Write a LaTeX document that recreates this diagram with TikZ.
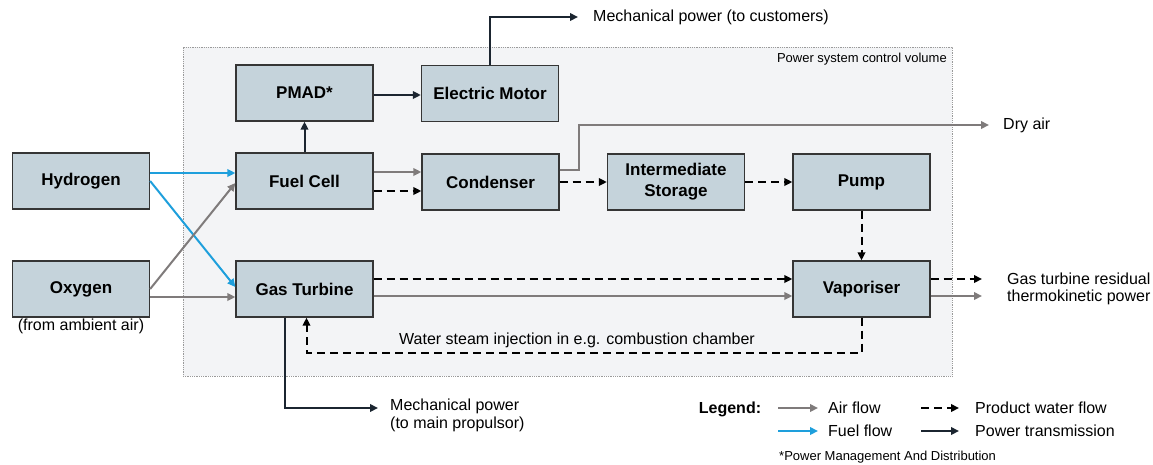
\documentclass[tikz,border=0pt]{standalone}
\usepackage{fontspec}
\setmainfont{Liberation Sans}
\usepackage{xcolor}
\usetikzlibrary{positioning,arrows.meta}

\definecolor{boxfill}{HTML}{C5D3DB}
\definecolor{boxline}{HTML}{353535}
\definecolor{airgray}{HTML}{7F7B7B}
\definecolor{fuelblue}{HTML}{1E9FDC}
\definecolor{powerdark}{HTML}{1B2530}
\definecolor{cvfill}{HTML}{F3F4F6}
\definecolor{cvline}{HTML}{9A9A9A}

\begin{document}
\begin{tikzpicture}[x=1pt,y=-1pt,
	box/.style={draw=boxline, line width=1.3pt, fill=boxfill,
		minimum width=137pt, minimum height=56pt, align=center,
		font=\fontsize{17}{21}\selectfont\bfseries},
	txt/.style={inner sep=0pt, align=left, font=\fontsize{16}{17.5}\selectfont},
	smalltxt/.style={inner sep=0pt, font=\fontsize{13}{15}\selectfont},
	tip/.style={-{Triangle[length=8pt,width=7.5pt]}},
	air/.style={tip, draw=airgray, line width=2pt},
	fuel/.style={tip, draw=fuelblue, line width=2pt},
	water/.style={tip, draw=black, line width=2pt, dash pattern=on 8pt off 5pt},
	power/.style={tip, draw=powerdark, line width=2pt}
	]
	
	\useasboundingbox (0,0) rectangle (1153,464);
	
	% control volume
	\node[
	draw=cvline,
	densely dotted,
	line width=0.8pt,
	fill=cvfill,
	minimum width=769pt,
	minimum height=329pt
	]
	(cv)
	at (567.5,211.5)
	{};
	
	\node[smalltxt, anchor=east] (cvtxt) at (947,59) {Power system control volume};
	
	% components
	\node[box] (hyd) at (81,181) {Hydrogen};
	\node[box] (oxy) at (81,289) {Oxygen};
	\node[txt] (oxynote) at (81,326) {(from ambient air)};
	
	\node[box] (pmad) at (304.5,93) {PMAD*};
	\node[box] (mot) at (490,93.5) {Electric Motor};
	\node[box] (fc) at (304.5,181) {Fuel Cell};
	\node[box] (cond) at (490.5,182) {Condenser};
	\node[box] (store) at (676,182) {Intermediate\\Storage};
	\node[box] (pump) at (861.5,182) {Pump};
	\node[box] (gt) at (304.5,289) {Gas Turbine};
	\node[box] (vap) at (861.5,289) {Vaporiser};
	
	% outputs
	\node[txt, anchor=west] (cust) at (593,17) {Mechanical power (to customers)};
	\node[txt, anchor=west] (dry) at (1003,125) {Dry air};
	\node[txt, anchor=west] (res) at (1007,289) {Gas turbine residual\\thermokinetic power};
	\node[txt, anchor=west] (prop) at (390,415.5) {Mechanical power\\(to main propulsor)};
	\node[txt] (steam) at (577,340) {Water steam injection in e.g. combustion chamber};
	
	% fuel and air in
	\draw[fuel] ([yshift=8pt]hyd.east) -- ([yshift=8pt]hyd.east -| fc.west);
	\draw[fuel] (hyd.east) -- ([yshift=2pt]gt.west);
	\draw[air] (oxy.east) -- ([yshift=-2pt]fc.west);
	\draw[air] ([yshift=-8pt]oxy.east) -- ([yshift=-8pt]oxy.east -| gt.west);
	
	% fuel cell branch
	\draw[power] (fc.north) -- (pmad.south);
	\draw[power] ([yshift=-2pt]pmad.east) -- ([yshift=-2pt]pmad.east -| mot.west);
	\draw[power] (mot.north) |- ([xshift=-15pt]cust.west);
	\draw[air] ([yshift=9pt]fc.east) -- ([yshift=9pt]fc.east -| cond.west);
	\draw[water] ([yshift=-10pt]fc.east) -- ([yshift=-10pt]fc.east -| cond.west);
	\draw[air] ([yshift=12pt]cond.east) -- ++(19pt,0pt) |- ([xshift=-14pt]dry.west);
	\draw[water] (cond.east) -- (store.west);
	\draw[water] (store.east) -- (pump.west);
	\draw[water] (pump.south) -- (vap.north);
	
	% gas turbine branch
	\draw[water] ([yshift=10pt]gt.east) -- ([yshift=10pt]gt.east -| vap.west);
	\draw[air] ([yshift=-7pt]gt.east) -- ([yshift=-7pt]gt.east -| vap.west);
	\draw[water] ([yshift=10pt]vap.east) -- ([xshift=-25pt,yshift=10pt]res.west);
	\draw[air] ([yshift=-7pt]vap.east) -- ([xshift=-25pt,yshift=-7pt]res.west);
	\draw[water] (vap.south) -- ++(0pt,-35pt) -| ([xshift=2pt]gt.south);
	\draw[power] ([xshift=-20pt]gt.south) |- ([xshift=-12pt,yshift=7.5pt]prop.west);
	
	% legend
	\node[inner sep=0pt, font=\fontsize{16}{18}\selectfont\bfseries] (leg) at (730,409) {Legend:};
	\node[txt, anchor=west] (airtxt) at (828,408) {Air flow};
	\node[txt, anchor=west] (fueltxt) at (828,431) {Fuel flow};
	\node[txt, anchor=west] (watertxt) at (975,408) {Product water flow};
	\node[txt, anchor=west] (powertxt) at (975,431) {Power transmission};
	\draw[air] ([xshift=-50pt]airtxt.west) -- ([xshift=-10pt]airtxt.west);
	\draw[fuel] ([xshift=-50pt]fueltxt.west) -- ([xshift=-10pt]fueltxt.west);
	\draw[water] ([xshift=-54pt]watertxt.west) -- ([xshift=-16pt]watertxt.west);
	\draw[power] ([xshift=-54pt]powertxt.west) -- ([xshift=-16pt]powertxt.west);
	\node[smalltxt, anchor=west] (note) at (779,457) {*Power Management And Distribution};
	
\end{tikzpicture}
\end{document}
